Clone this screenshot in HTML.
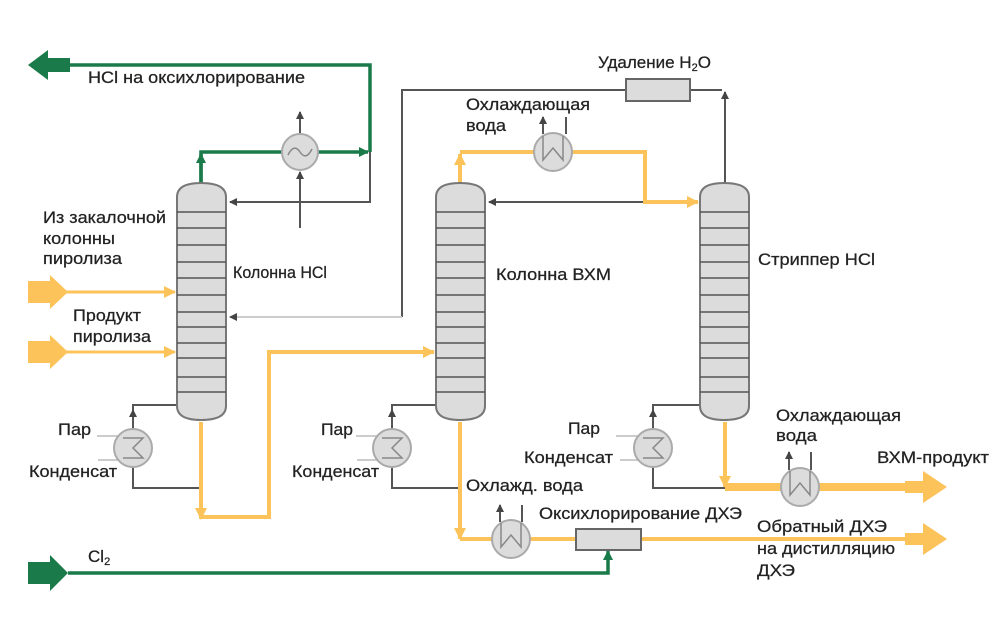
<!DOCTYPE html>
<html><head><meta charset="utf-8"><style>
body{margin:0;background:#fff}
svg{display:block}
text{font-family:"Liberation Sans",sans-serif;font-size:17px;fill:#222;stroke:#222;stroke-width:0.25}
</style></head><body>
<svg width="1000" height="640" viewBox="0 0 1000 640" xmlns="http://www.w3.org/2000/svg">
<defs>
<marker id="ag" markerWidth="8" markerHeight="8" refX="7" refY="4" orient="auto" markerUnits="userSpaceOnUse"><path d="M0,0 L8,4 L0,8z" fill="#444"/></marker>
<marker id="agr" markerWidth="10" markerHeight="10" refX="9" refY="5" orient="auto" markerUnits="userSpaceOnUse"><path d="M0,0 L10,5 L0,10z" fill="#1a7a4a"/></marker>
<marker id="ao" markerWidth="12" markerHeight="12" refX="11" refY="6" orient="auto" markerUnits="userSpaceOnUse"><path d="M0,0 L12,6 L0,12z" fill="#fcc35a"/></marker>
<g id="col">
<path d="M0,14 Q0,0 24,0 Q49,0 49,14 L49,223 Q49,237 24,237 Q0,237 0,223 Z" fill="#dcdcdc" stroke="#777" stroke-width="2"/>
<g stroke="#555" stroke-width="1.5">
<line x1="0" y1="29" x2="49" y2="29"/><line x1="0" y1="45" x2="49" y2="45"/><line x1="0" y1="62" x2="49" y2="62"/><line x1="0" y1="79" x2="49" y2="79"/><line x1="0" y1="95" x2="49" y2="95"/><line x1="0" y1="112" x2="49" y2="112"/><line x1="0" y1="129" x2="49" y2="129"/><line x1="0" y1="144" x2="49" y2="144"/><line x1="0" y1="160" x2="49" y2="160"/><line x1="0" y1="175" x2="49" y2="175"/><line x1="0" y1="194" x2="49" y2="194"/><line x1="0" y1="209" x2="49" y2="209"/>
</g></g>
<g id="reb"><circle r="19" fill="#dcdcdc" stroke="#aaa" stroke-width="2"/><path d="M-10,-10 L10,-10 L0,0 L10,10 L-10,10" fill="none" stroke="#888" stroke-width="1.5"/></g>
<g id="cw"><circle r="19" fill="#dcdcdc" stroke="#aaa" stroke-width="2"/><path d="M-10,-16 L-10,8 L0,-4 L10,8 L10,-16" fill="none" stroke="#888" stroke-width="1.5"/></g>
</defs>

<g fill="none" stroke="#555" stroke-width="2">
<path d="M370,152 L370,202 L230,202" marker-end="url(#ag)"/>
<path d="M300,228 L300,172" marker-end="url(#ag)"/>
<path d="M300,134 L300,112" marker-end="url(#ag)"/>
<path d="M725,183 L725,92" marker-end="url(#ag)"/>
<path d="M722,90 L690,90 M626,90 L402,90 L402,317"/>
<path d="M645,202 L489,202" marker-end="url(#ag)"/>
<path d="M543,134 L543,117" marker-end="url(#ag)"/><path d="M566,134 L566,117"/>
<path d="M177,405 L133,405 L133,429" /><path d="M133,429 L133,410" marker-end="url(#ag)"/>
<path d="M133,467 L133,488 L201,488"/>
<path d="M436,405 L392,405 L392,429"/><path d="M392,429 L392,410" marker-end="url(#ag)"/>
<path d="M392,467 L392,488 L460,488"/>
<path d="M700,405 L653,405 L653,429"/><path d="M653,429 L653,410" marker-end="url(#ag)"/>
<path d="M653,467 L653,488 L725,488"/>
<path d="M789,470 L789,452" marker-end="url(#ag)"/><path d="M811,470 L811,452"/>
<path d="M500,522 L500,505" marker-end="url(#ag)"/><path d="M522,522 L522,505"/>
</g>
<path d="M402,317 L230,317" stroke="#ccc" stroke-width="2" fill="none" marker-end="url(#ag)"/>
<g stroke="#bbb" stroke-width="1.5" fill="none">
<path d="M97,436 L118,436 M98,460 L118,460"/>
<path d="M356,436 L377,436 M357,460 L377,460"/>
<path d="M616,436 L638,436 M620,460 L638,460"/>
</g>

<g fill="none" stroke="#1a7a4a" stroke-width="3.5">
<path d="M201,183 L201,152 L282,152 M318,152 L368,152" marker-end="url(#agr)"/>
<path d="M201,183 L201,154" marker-end="url(#agr)"/>
<path d="M370,152 L370,65 L68,65"/>
<path d="M68,573 L608,573 L608,551" marker-end="url(#agr)"/>
</g>
<polygon points="28,65 48,50 48,58 70,58 70,72 48,72 48,80" fill="#1a7a4a"/>
<polygon points="28,562 50,562 50,555 68,573 50,591 50,584 28,584" fill="#1a7a4a"/>

<g fill="none" stroke="#fcc35a" stroke-width="4">
<path d="M460,183 L460,154" marker-end="url(#ao)"/>
<path d="M460,152 L645,152 L645,202 L698,202" marker-end="url(#ao)"/>
<path d="M201,422 L201,517 L269,517 L269,352 L434,352" marker-end="url(#ao)"/>
<path d="M201,422 L201,519" marker-end="url(#ao)"/>
<path d="M460,422 L460,539" marker-end="url(#ao)"/>
<path d="M460,539 L925,539"/>
<path d="M725,422 L725,487" marker-end="url(#ao)"/>
</g>
<g fill="none" stroke="#fcc35a" stroke-width="3">
<path d="M60,292 L175,292" marker-end="url(#ao)"/>
<path d="M60,352 L175,352" marker-end="url(#ao)"/>
</g>
<path d="M725,487 L925,487" stroke="#fcc35a" stroke-width="8" fill="none"/>
<polygon points="28,281 50,281 50,275 68,292 50,309 50,303 28,303" fill="#fcc35a"/>
<polygon points="28,341 50,341 50,335 68,352 50,369 50,363 28,363" fill="#fcc35a"/>
<polygon points="905,481 923,481 923,471 947,487 923,503 923,493 905,493" fill="#fcc35a"/>
<polygon points="905,533 923,533 923,523 947,539 923,555 923,545 905,545" fill="#fcc35a"/>

<use href="#col" x="177" y="183"/>
<use href="#col" x="436" y="183"/>
<use href="#col" x="700" y="183"/>
<circle cx="300" cy="152" r="18" fill="#dcdcdc" stroke="#aaa" stroke-width="2"/>
<path d="M288,155 Q294,143 300,152 Q306,161 312,149" fill="none" stroke="#888" stroke-width="1.5"/>
<use href="#cw" x="553" y="152"/>
<use href="#cw" x="800" y="487"/>
<use href="#cw" x="511" y="539"/>
<use href="#reb" x="133" y="448"/>
<use href="#reb" x="392" y="448"/>
<use href="#reb" x="653" y="448"/>
<rect x="626" y="79" width="64" height="22" fill="#dcdcdc" stroke="#666" stroke-width="2"/>
<rect x="576" y="529" width="65" height="21" fill="#dcdcdc" stroke="#666" stroke-width="2"/>

<text x="88" y="83" textLength="217" lengthAdjust="spacingAndGlyphs">HCl на оксихлорирование</text>
<text x="598" y="68">Удаление H<tspan font-size="11" dy="3">2</tspan><tspan dy="-3">O</tspan></text>
<text x="466" y="110" textLength="124" lengthAdjust="spacingAndGlyphs">Охлаждающая</text><text x="466" y="131" textLength="40" lengthAdjust="spacingAndGlyphs">вода</text>
<text x="43" y="223" textLength="123" lengthAdjust="spacingAndGlyphs">Из закалочной</text><text x="43" y="244" textLength="72" lengthAdjust="spacingAndGlyphs">колонны</text><text x="43" y="264" textLength="79" lengthAdjust="spacingAndGlyphs">пиролиза</text>
<text x="233" y="278" font-size="16" textLength="94" lengthAdjust="spacingAndGlyphs">Колонна HCl</text>
<text x="496" y="280" textLength="115" lengthAdjust="spacingAndGlyphs">Колонна ВХМ</text>
<text x="758" y="265" textLength="117" lengthAdjust="spacingAndGlyphs">Стриппер HCl</text>
<text x="73" y="321" textLength="68" lengthAdjust="spacingAndGlyphs">Продукт</text><text x="73" y="342" textLength="78" lengthAdjust="spacingAndGlyphs">пиролиза</text>
<text x="58" y="435" textLength="33" lengthAdjust="spacingAndGlyphs">Пар</text><text x="29" y="477" textLength="88" lengthAdjust="spacingAndGlyphs">Конденсат</text>
<text x="321" y="435" textLength="32" lengthAdjust="spacingAndGlyphs">Пар</text><text x="292" y="477" textLength="87" lengthAdjust="spacingAndGlyphs">Конденсат</text>
<text x="568" y="434" textLength="32" lengthAdjust="spacingAndGlyphs">Пар</text><text x="524" y="463" textLength="89" lengthAdjust="spacingAndGlyphs">Конденсат</text>
<text x="776" y="421" textLength="125" lengthAdjust="spacingAndGlyphs">Охлаждающая</text><text x="776" y="441" textLength="41" lengthAdjust="spacingAndGlyphs">вода</text>
<text x="877" y="463" textLength="112" lengthAdjust="spacingAndGlyphs">ВХМ-продукт</text>
<text x="466" y="491" textLength="117" lengthAdjust="spacingAndGlyphs">Охлажд. вода</text>
<text x="539" y="519" textLength="203" lengthAdjust="spacingAndGlyphs">Оксихлорирование ДХЭ</text>
<text x="757" y="532" textLength="130" lengthAdjust="spacingAndGlyphs">Обратный ДХЭ</text><text x="757" y="554" textLength="138" lengthAdjust="spacingAndGlyphs">на дистилляцию</text><text x="757" y="576" textLength="38" lengthAdjust="spacingAndGlyphs">ДХЭ</text>
<text x="88" y="562">Cl<tspan font-size="11" dy="3">2</tspan></text>
</svg>
</body></html>
